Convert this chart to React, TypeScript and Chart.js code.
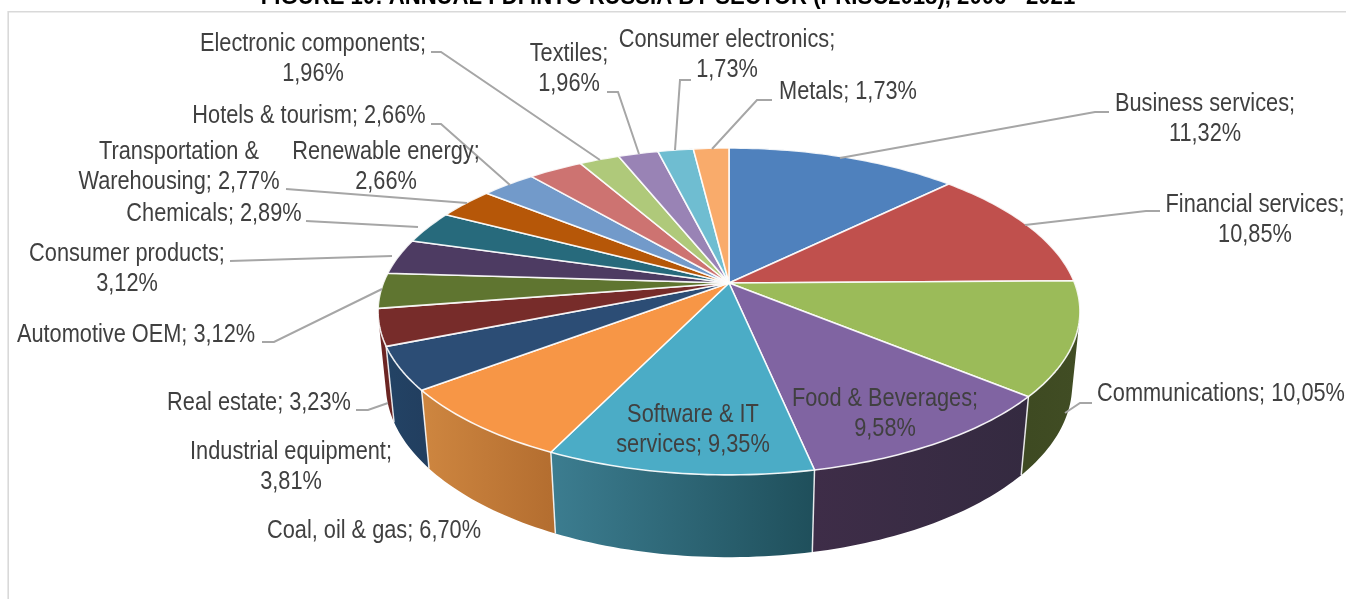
import React, { useEffect, useRef } from "react";
import { Chart, registerables } from "chart.js";

Chart.register(...registerables);

const sectors = [
  "Business services", "Financial services", "Communications", "Food & Beverages",
  "Software & IT services", "Coal, oil & gas", "Industrial equipment", "Real estate",
  "Automotive OEM", "Consumer products", "Chemicals", "Transportation & Warehousing",
  "Renewable energy", "Hotels & tourism", "Electronic components", "Textiles",
  "Consumer electronics", "Metals",
];
const shares = [
  11.32, 10.85, 10.05, 9.58, 9.35, 6.7, 3.81, 3.23, 3.12, 3.12, 2.89, 2.77, 2.66, 2.66, 1.96,
  1.96, 1.73, 1.73,
];
const topColors = [
  "#4F81BD", "#C0504D", "#9BBB59", "#8064A2", "#4BACC6", "#F79646",
  "#2C4D75", "#772C2A", "#5F7530", "#4D3B62", "#276A7C", "#B65708",
  "#729ACA", "#CD7371", "#AFC97A", "#9983B5", "#6FBDD1", "#F9AB6B",
];
// Side wall shading, left colour then right colour of each slice's rim.
const wallColors: [string, string][] = [
  ["#2F4D71", "#2F4D71"], ["#733130", "#733130"], ["#3E4A22", "#414D24"], ["#3E2D48", "#342A40"],
  ["#3C7D90", "#1F4F5B"], ["#CE8640", "#B46E30"], ["#234365", "#223F60"], ["#6B2523", "#6B2523"],
  ["#3F4E20", "#3F4E20"], ["#332740", "#332740"], ["#1A4753", "#1A4753"], ["#7A3A05", "#7A3A05"],
  ["#4C6787", "#4C6787"], ["#894D4C", "#894D4C"], ["#758752", "#758752"], ["#665879", "#665879"],
  ["#4A7E8C", "#4A7E8C"], ["#A77247", "#A77247"],
];

const figureTitle = "FIGURE 10: ANNUAL FDI INTO RUSSIA BY SECTOR (PRISC2018), 2006 - 2021";

// Centre of each data label's first line, and the text that ends that line.
const labelPlaces: { x: number; y: number; first?: string }[] = [
  { x: 1205, y: 103, first: "Business services;" },
  { x: 1255, y: 204, first: "Financial services;" },
  { x: 1221, y: 393 },
  { x: 885, y: 398, first: "Food & Beverages;" },
  { x: 693, y: 414, first: "Software & IT" },
  { x: 374, y: 530 },
  { x: 291, y: 451, first: "Industrial equipment;" },
  { x: 259, y: 402 },
  { x: 136, y: 334 },
  { x: 127, y: 253, first: "Consumer products;" },
  { x: 214, y: 213 },
  { x: 179, y: 151, first: "Transportation &" },
  { x: 386, y: 151, first: "Renewable energy;" },
  { x: 309, y: 115 },
  { x: 313, y: 43, first: "Electronic components;" },
  { x: 569, y: 53, first: "Textiles;" },
  { x: 727, y: 39, first: "Consumer electronics;" },
  { x: 848, y: 91 },
];

const leaderLines: number[][][] = [
  [[1109, 112], [1095, 112], [840, 158]],
  [[1160, 211], [1146, 211], [1025, 225]],
  [[1092, 403], [1080, 403], [1065, 413]],
  [[356, 410], [368, 410], [388, 403]],
  [[262, 342], [274, 342], [382, 289]],
  [[230, 261], [392, 256]],
  [[306, 221], [418, 227]],
  [[286, 189], [467, 203]],
  [[431, 124], [441, 124], [510, 185]],
  [[431, 52], [441, 52], [600, 160]],
  [[607, 92], [618, 92], [639, 154]],
  [[691, 80], [680, 80], [675, 150]],
  [[772, 100], [757, 100], [712, 149]],
];

// Perspective projection of the pie's unit disc onto the page.
const CX = 729;
const CY = 283;
const RX = 345.6;
const RY = 158.5;
const TILT = 0.174;
const DEPTH_Y = 74;
const DEPTH_W = 0.022;

type Pt = { x: number; y: number };

const project = (a: number, r: number, low: boolean): Pt => {
  const u = r * Math.cos(a);
  const v = r * Math.sin(a);
  const w = 1 - TILT * v + (low ? DEPTH_W : 0);
  return { x: CX + (RX * u) / w, y: CY + (RY * v + (low ? DEPTH_Y : 0)) / w };
};

const rimPoints = (start: number, end: number, low: boolean) => {
  const n = Math.max(6, Math.ceil((end - start) * 50));
  const pts: Pt[] = [];
  for (let i = 0; i <= n; i++) pts.push(project(start + ((end - start) * i) / n, 1, low));
  return pts;
};

const signedArea = (q: Pt[]) =>
  q.reduce((sum, p, i) => {
    const n = q[(i + 1) % q.length];
    return sum + p.x * n.y - n.x * p.y;
  }, 0);

const perspectivePie = {
  id: "perspectivePie",
  beforeDatasetDraw(chart: any) {
    const ctx: CanvasRenderingContext2D = chart.ctx;
    const arcs = chart.getDatasetMeta(0).data as any[];
    ctx.save();

    // Rim walls, furthest slices first so that nearer ones overlap them.
    const order = arcs
      .map((arc, i) => ({ arc, i }))
      .sort((p, q) => {
        const mid = (e: any) => Math.sin((e.arc.startAngle + e.arc.endAngle) / 2);
        return mid(p) - mid(q);
      });
    order.forEach(({ arc, i }) => {
      const up = rimPoints(arc.startAngle, arc.endAngle, false);
      const down = rimPoints(arc.startAngle, arc.endAngle, true);
      const xs = up.map((p) => p.x);
      const grad = ctx.createLinearGradient(Math.min(...xs), 0, Math.max(...xs), 0);
      grad.addColorStop(0, wallColors[i][0]);
      grad.addColorStop(1, wallColors[i][1]);
      ctx.fillStyle = grad;
      // All rim quads share one path with one winding, so the drum's straight
      // silhouette fills without seams.
      ctx.beginPath();
      for (let k = 0; k + 1 < up.length; k++) {
        const quad = [up[k], up[k + 1], down[k + 1], down[k]];
        if (signedArea(quad) < 0) quad.reverse();
        quad.forEach((p, j) => (j ? ctx.lineTo(p.x, p.y) : ctx.moveTo(p.x, p.y)));
        ctx.closePath();
      }
      ctx.fill();
    });
    ctx.strokeStyle = "rgba(255,255,255,0.85)";
    ctx.lineWidth = 1.5;
    arcs.forEach((arc) => {
      if (Math.sin(arc.startAngle) < 0.3) return;
      const a = project(arc.startAngle, 1, false);
      const b = project(arc.startAngle, 1, true);
      ctx.beginPath();
      ctx.moveTo(a.x, a.y);
      ctx.lineTo(b.x, b.y);
      ctx.stroke();
    });

    // Top face of each slice.
    arcs.forEach((arc, i) => {
      const rim = rimPoints(arc.startAngle, arc.endAngle, false);
      ctx.beginPath();
      ctx.moveTo(CX, CY);
      rim.forEach((p) => ctx.lineTo(p.x, p.y));
      ctx.closePath();
      ctx.fillStyle = topColors[i];
      ctx.fill();
      ctx.strokeStyle = "rgba(255,255,255,0.9)";
      ctx.lineWidth = 1.6;
      ctx.lineJoin = "round";
      ctx.stroke();
    });
    ctx.restore();
    return false;
  },
  afterDatasetsDraw(chart: any) {
    const ctx: CanvasRenderingContext2D = chart.ctx;
    ctx.save();

    // Chart frame.
    ctx.strokeStyle = "#D9D9D9";
    ctx.lineWidth = 1.6;
    ctx.beginPath();
    ctx.moveTo(8.2, 599);
    ctx.lineTo(8.2, 11.8);
    ctx.lineTo(1346, 11.8);
    ctx.stroke();

    // Leader lines.
    ctx.strokeStyle = "#A6A6A6";
    ctx.lineWidth = 2;
    leaderLines.forEach((line) => {
      ctx.beginPath();
      line.forEach(([x, y], k) => (k ? ctx.lineTo(x, y) : ctx.moveTo(x, y)));
      ctx.stroke();
    });

    // Text is condensed horizontally.
    const squeezed = (text: string, x: number, y: number, sx: number) => {
      ctx.save();
      ctx.translate(x, y);
      ctx.scale(sx, 1);
      ctx.fillText(text, 0, 0);
      ctx.restore();
    };
    ctx.textAlign = "center";
    ctx.textBaseline = "middle";
    ctx.fillStyle = "#404040";
    ctx.font = '25px "Liberation Sans"';
    sectors.forEach((name, i) => {
      const place = labelPlaces[i];
      const text = `${name}; ${shares[i].toFixed(2).replace(".", ",")}%`;
      const y = place.y + 1.5;
      if (place.first) {
        squeezed(place.first, place.x, y, 0.87);
        squeezed(text.slice(place.first.length).trim(), place.x, y + 30, 0.87);
      } else {
        squeezed(text, place.x, y, 0.87);
      }
    });

    ctx.fillStyle = "#000000";
    ctx.font = 'bold 23px "Liberation Sans"';
    ctx.textBaseline = "alphabetic";
    squeezed(figureTitle, 668, 4, 0.962);
    ctx.restore();
  },
};

export default function App() {
  const ref = useRef<HTMLCanvasElement>(null);
  useEffect(() => {
    const chart = new Chart(ref.current!, {
      type: "pie",
      data: {
        labels: sectors,
        datasets: [{ data: shares, backgroundColor: topColors }],
      },
      options: {
        responsive: false,
        animation: false,
        plugins: { legend: { display: false }, tooltip: { enabled: false } },
      },
      plugins: [perspectivePie],
    } as any);
    return () => chart.destroy();
  }, []);
  return (
    <canvas
      ref={ref}
      width={1346}
      height={599}
      style={{ position: "absolute", left: 0, top: 0, display: "block", background: "#fff" }}
    />
  );
}
